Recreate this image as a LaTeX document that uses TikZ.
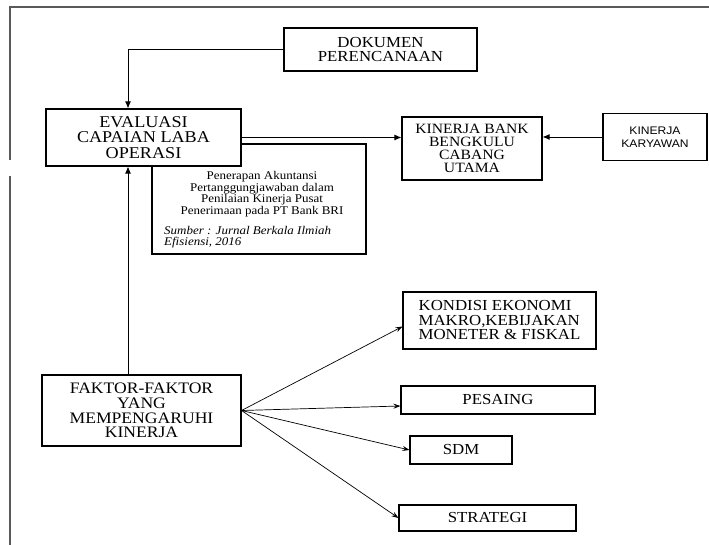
\documentclass[tikz,border=0pt]{standalone}
\usepackage{fontspec}
\setmainfont{Liberation Serif}[FakeStretch=1.1]
\newfontfamily\sansf{Liberation Sans}[FakeStretch=1.1]
\usetikzlibrary{arrows.meta,calc}
\tikzset{
  box/.style={draw, line width=1.1pt, inner sep=0pt, align=center},
  conn/.style={line width=0.9pt},
  hd/.style={-{Latex[length=7pt,width=6pt]}},
  th/.style={-{Stealth[length=7pt,width=5pt,inset=2.5pt]}, line width=0.7pt},
  frameline/.style={draw=black!65, line width=1.6pt},
}
\begin{document}
\begin{tikzpicture}[x=1pt,y=-1pt]
\useasboundingbox (0,0) rectangle (709,545);
% frame
\draw[frameline] (10,160) -- (10,7) -- (709,7);
\draw[frameline] (10,176) -- (10,545);
\coordinate (vx) at (128,0);
% reference box (behind)
\node[box, minimum width=214pt, minimum height=110pt, fill=white] (refbox) at (259,199) {};
\node[align=center, inner sep=0pt, font=\fontsize{11.8}{11.5}\selectfont] (reftext) at (262,194) {Penerapan Akuntansi\\Pertanggungjawaban dalam\\Penilaian Kinerja Pusat\\Penerimaan pada PT Bank BRI};
\node[align=left, inner sep=0pt, anchor=west, font=\fontsize{11.8}{10.5}\selectfont\itshape] (refsrc) at (164,237) {Sumber : Jurnal Berkala Ilmiah\\Efisiensi, 2016};
% boxes
\node[box, fill=white, minimum width=195pt, minimum height=57pt, font=\fontsize{16.5}{15.7}\selectfont] (eval) at (143.5,137.5) {EVALUASI\\CAPAIAN LABA\\OPERASI};
\node[box, minimum width=193pt, minimum height=43pt, font=\fontsize{15.3}{14.5}\selectfont] (dok) at (380.5,49.5) {DOKUMEN\\PERENCANAAN};
\node[box, minimum width=140pt, minimum height=63pt, font=\fontsize{14.2}{12.8}\selectfont] (kb) at (472,148.5) {KINERJA BANK\\BENGKULU\\CABANG\\UTAMA};
\node[box, minimum width=104pt, minimum height=47pt, font=\sansf\fontsize{11}{13.3}\selectfont] (kk) at (655,137) {KINERJA\\KARYAWAN};
\node[box, minimum width=199pt, minimum height=71pt, font=\fontsize{16}{14.8}\selectfont] (fak) at (141.5,410.5) {FAKTOR-FAKTOR\\YANG\\MEMPENGARUHI\\KINERJA};
\node[box, minimum width=193pt, minimum height=57pt, align=left, font=\fontsize{15.3}{14.5}\selectfont] (kon) at (499.5,320.5) {KONDISI EKONOMI\\MAKRO,KEBIJAKAN\\MONETER \& FISKAL};
\node[box, minimum width=194pt, minimum height=28pt, font=\fontsize{15.3}{14}\selectfont] (pes) at (498,400) {PESAING};
\node[box, minimum width=102pt, minimum height=28pt, font=\fontsize{15.3}{14}\selectfont] (sdm) at (461,450) {SDM};
\node[box, minimum width=177pt, minimum height=26pt, font=\fontsize{15.3}{14}\selectfont] (str) at (487.5,518) {STRATEGI};
% connectors
\draw[conn,hd] (dok.west) -| (eval.north -| vx);
\draw[conn,hd] (eval.east) -- (eval.east -| kb.west);
\draw[conn,hd] (kk.west) -- (kk.west -| kb.east);
\draw[conn,hd] (fak.north -| vx) -- (eval.south -| vx);
\draw[th] (fak.east) -- ([yshift=-6pt]kon.west);
\draw[th] (fak.east) -- ([yshift=-6pt]pes.west);
\draw[th] (fak.east) -- (sdm.west);
\draw[th] (fak.east) -- (str.west);
\end{tikzpicture}
\end{document}
